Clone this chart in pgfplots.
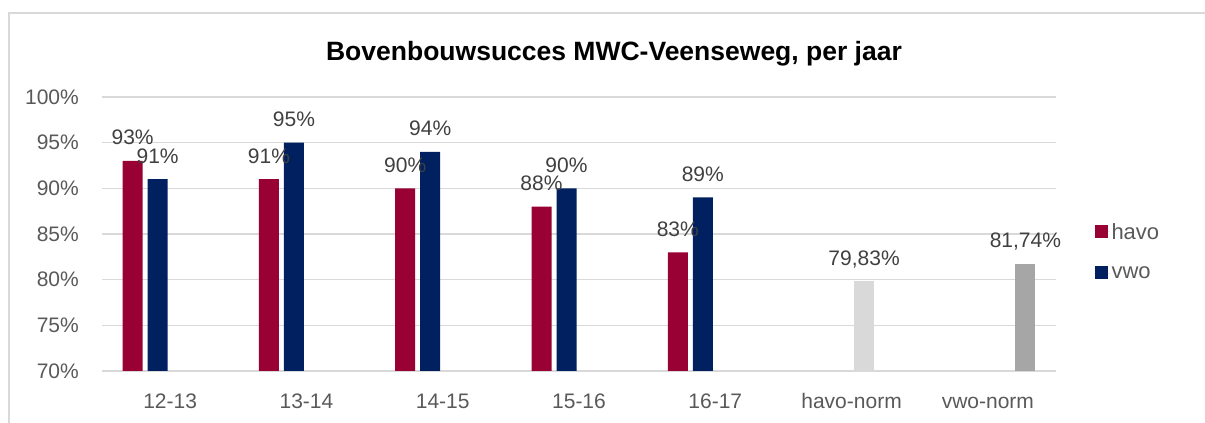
\documentclass[border=0pt]{standalone}
\usepackage{pgfplots}
\pgfplotsset{compat=1.18}
\usepackage{fontspec}
\setmainfont{Liberation Sans}
\definecolor{havo}{HTML}{990033}
\definecolor{vwo}{HTML}{002060}
\definecolor{lgray}{HTML}{D9D9D9}
\definecolor{dgray}{HTML}{A6A6A6}
\definecolor{txt}{HTML}{595959}
\definecolor{lbl}{HTML}{404040}
\begin{document}
\begin{tikzpicture}[x=1pt,y=1pt]
\useasboundingbox (0,0) rectangle (1205,423);
\draw[lgray, line width=1.5pt] (9,-5) -- (9,410) -- (1215,410);
\node[anchor=base, inner sep=0pt, font=\fontsize{26.5}{30}\selectfont\bfseries] at (614,362) {Bovenbouwsucces MWC-Veenseweg, per jaar};
\begin{axis}[
  at={(102pt,52pt)}, anchor=south west,
  width=954pt, height=274pt, scale only axis,
  ybar, bar width=20pt,
  xmin=-0.5, xmax=6.5, ymin=70, ymax=100,
  ytick={70,75,...,100},
  yticklabel={\pgfmathprintnumber{\tick}\%},
  xtick={0,...,6},
  xticklabels={12-13,13-14,14-15,15-16,16-17,havo-norm,vwo-norm},
  ymajorgrids, grid style={lgray, line width=1.3pt},
  axis line style={draw=none},
  major tick length=0pt,
  tick style={draw=none},
  /pgf/number format/assume math mode=true,
  ticklabel style={font=\fontsize{21}{24}\selectfont, text=txt},
  yticklabel style={anchor=east, inner sep=0pt, xshift=-23pt},
  xticklabel style={anchor=base, inner sep=0pt, yshift=-38pt},
  nodes near coords={\pgfmathprintnumber{\pgfplotspointmeta}\%},
  every node near coord/.append style={anchor=base, yshift=16pt, inner sep=0pt, font=\fontsize{21}{24}\selectfont, text=lbl},
  legend style={at={(1.037,0.436)}, anchor=west, draw=none, fill=none, font=\fontsize{22}{25}\selectfont, text=txt, row sep=22pt},
  legend image code/.code={\fill[#1] (0pt,-6pt) rectangle (13pt,7pt); \path (0pt,0pt) -- (15pt,0pt);},
  legend cell align=left,
]
\addplot[fill=havo, draw=none, bar shift=-37.5pt] coordinates {(0,93) (1,91) (2,90) (3,88) (4,83)};
\addlegendentry{havo}
\addplot[fill=vwo, draw=none, bar shift=-12.5pt] coordinates {(0,91) (1,95) (2,94) (3,90) (4,89)};
\addlegendentry{vwo}
\addplot[fill=lgray, draw=none, bar shift=12.5pt, forget plot,
  nodes near coords={\pgfmathprintnumber[fixed, fixed zerofill, precision=2, use comma]{\pgfplotspointmeta}\%}] coordinates {(5,79.83)};
\addplot[fill=dgray, draw=none, bar shift=37.5pt, forget plot,
  nodes near coords={\pgfmathprintnumber[fixed, fixed zerofill, precision=2, use comma]{\pgfplotspointmeta}\%}] coordinates {(6,81.74)};
\end{axis}
\end{tikzpicture}
\end{document}
